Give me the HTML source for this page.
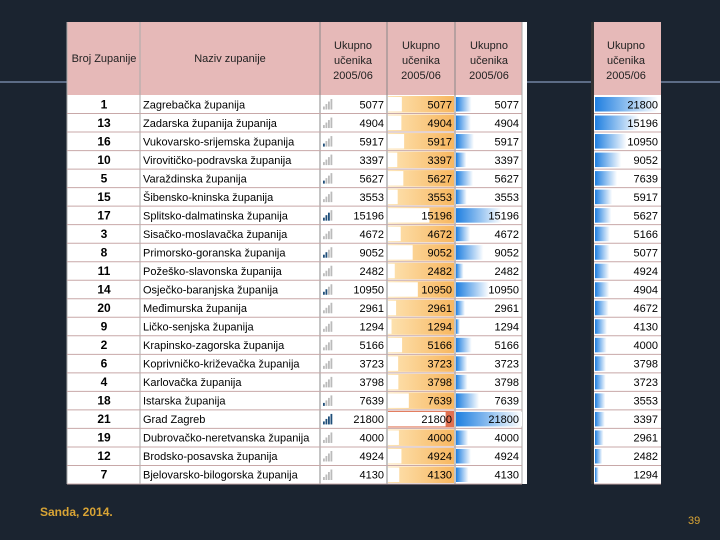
<!DOCTYPE html>
<html><head><meta charset="utf-8">
<style>
body{margin:0;width:720px;height:540px;background:#1b2430;position:relative;overflow:hidden;font-family:"Liberation Sans",sans-serif}
.abs{position:absolute}
</style></head><body>
<div class="abs" style="left:0;top:81px;width:720px;height:2px;background:#5c6c86"></div>
<svg class="abs" style="left:0;top:0" width="720" height="540" id="svg">
<defs>
<linearGradient id="bl" x1="0" x2="1"><stop offset="0" stop-color="#1f7fe0"/><stop offset="1" stop-color="#ffffff"/></linearGradient>
<linearGradient id="or" x1="0" x2="1"><stop offset="0" stop-color="#fde3b2"/><stop offset="1" stop-color="#f8b760"/></linearGradient>
</defs>
</svg>
<div class="abs" style="left:40px;top:505px;color:#d9a435;font-size:12px;font-weight:bold">Sanda, 2014.</div>
<div class="abs" style="left:688px;top:515px;color:#d9a435;font-size:11px">39</div>
<script>
const ids=[1,13,16,10,5,15,17,3,8,11,14,20,9,2,6,4,18,21,19,12,7];
const names=["Zagrebačka županija","Zadarska županija županija","Vukovarsko-srijemska županija","Virovitičko-podravska županija","Varaždinska županija","Šibensko-kninska županija","Splitsko-dalmatinska županija","Sisačko-moslavačka županija","Primorsko-goranska županija","Požeško-slavonska županija","Osječko-baranjska županija","Međimurska županija","Ličko-senjska županija","Krapinsko-zagorska županija","Koprivničko-križevačka županija","Karlovačka županija","Istarska županija","Grad Zagreb","Dubrovačko-neretvanska županija","Brodsko-posavska županija","Bjelovarsko-bilogorska županija"];
const values=[5077,4904,5917,3397,5627,3553,15196,4672,9052,2482,10950,2961,1294,5166,3723,3798,7639,21800,4000,4924,4130];
const sortedValues=[21800,15196,10950,9052,7639,5917,5627,5166,5077,4924,4904,4672,4130,4000,3798,3723,3553,3397,2961,2482,1294];
const iconThresholds=[5500,9000,13000,20000];
const svg=document.getElementById('svg');const NS='http://www.w3.org/2000/svg';
function el(t,a,txt){const e=document.createElementNS(NS,t);for(const k in a)e.setAttribute(k,a[k]);if(txt!=null)e.textContent=txt;svg.appendChild(e);return e;}
const top0=22,hdrH=73,rowTop=95,rowH=(484-95)/21;
const maxV=Math.max(...values);
// left table
let r=el('rect',{x:67,y:top0,width:460,height:462,fill:'#fff'});

r=el('rect',{x:67,y:top0,width:455,height:hdrH,fill:'#e6b9b8'});

const cols=[67,140,320,387,455,522];
cols.forEach((x,i)=>{const l=el('line',{x1:x,y1:top0,x2:x,y2:484,stroke:i>=2&&i<=4?'#888':'#aaa','stroke-width':1});});
let t=el('text',{x:104,y:62,'font-size':11,'text-anchor':'middle',fill:'#222'},'Broj Zupanije');

t=el('text',{x:230,y:62,'font-size':11,'text-anchor':'middle',fill:'#222'},'Naziv zupanije');

function hdr(cx,name){['Ukupno','učenika','2005/06'].forEach((s,i)=>{const tt=el('text',{x:cx,y:49+i*15,'font-size':11,'text-anchor':'middle',fill:'#222'},s);});}
hdr(353,'header-ukupno-1');hdr(421,'header-ukupno-2');hdr(489,'header-ukupno-3');hdr(626,'header-ukupno-sorted');
values.forEach((v,i)=>{
 const y=rowTop+i*rowH, ym=y+rowH/2+4;
 const ln=el('line',{x1:67,y1:y+rowH,x2:522,y2:y+rowH,stroke:'#c8a8a8'});
 let a=el('text',{x:104,y:ym,'font-size':12,'font-weight':'bold','text-anchor':'middle',fill:'#000'},ids[i]);
 a=el('text',{x:143,y:ym,'font-size':11,fill:'#000'},names[i]);
 const lvl=iconThresholds.filter(th=>v>=th).length;
 for(let k=0;k<4;k++){const h=3+k*2.5;const b=el('rect',{x:323+k*2.5,y:y+rowH-4-h,width:1.8,height:h,fill:k<lvl?'#1f4e79':'#bbb'});}
 a=el('text',{x:384,y:ym,'font-size':11,'text-anchor':'end',fill:'#000'},v);
 const w=v/maxV*66;
 a=el('rect',{x:388,y:y+1,width:66,height:rowH-2,fill:v===maxV?'#e07050':'url(#or)'});
 a=el('rect',{x:388,y:y+2,width:Math.min(w,64)*0.9,height:rowH-4,fill:'#fff'});
 a=el('text',{x:452,y:ym,'font-size':11,'text-anchor':'end',fill:'#000'},v);
 a=el('rect',{x:456,y:y+2,width:w,height:rowH-4,fill:'url(#bl)'});
 a=el('text',{x:519,y:ym,'font-size':11,'text-anchor':'end',fill:'#000'},v);
});
// right table
r=el('rect',{x:591,y:top0,width:70,height:462,fill:'#fff'});
r=el('rect',{x:591,y:top0,width:70,height:hdrH,fill:'#e6b9b8'});
hdr(626,'header-ukupno-sorted');
r=el('rect',{x:591,y:top0,width:3,height:462,fill:'#333'});
sortedValues.forEach((v,i)=>{
 const y=rowTop+i*rowH, ym=y+rowH/2+4;
 let a=el('line',{x1:594,y1:y+rowH,x2:661,y2:y+rowH,stroke:'#c8a8a8'});
 a=el('rect',{x:595,y:y+2,width:v/maxV*63,height:rowH-4,fill:'url(#bl)'});
 a=el('text',{x:658,y:ym,'font-size':11,'text-anchor':'end',fill:'#000'},v);
});
</script>
</body></html>
